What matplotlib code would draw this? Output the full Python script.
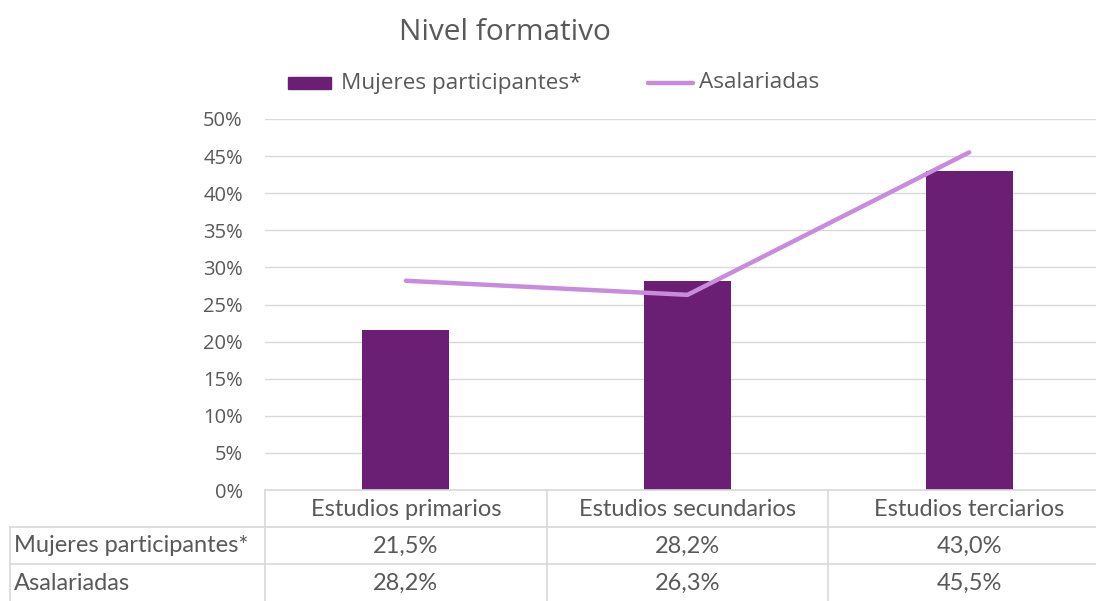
import matplotlib
matplotlib.use("Agg")
import matplotlib.pyplot as plt
from matplotlib.lines import Line2D
from matplotlib.patches import Rectangle
from matplotlib.ticker import PercentFormatter

categories = ["Estudios primarios", "Estudios secundarios", "Estudios terciarios"]
mujeres = [21.5, 28.2, 43.0]
asalariadas = [28.2, 26.3, 45.5]
series_names = ["Mujeres participantes*", "Asalariadas"]
yticks = [0, 5, 10, 15, 20, 25, 30, 35, 40, 45, 50]

W, H = 1096, 601
BAR = "#6B1F74"
LINE = "#C98BDC"
TXT = "#595959"
GRID = "#D9D9D9"
FONT = ["Open Sans", "DejaVu Sans"]
TFONT = ["Liberation Sans Narrow", "Lato", "DejaVu Sans"]

fig = plt.figure(figsize=(W / 100, H / 100), dpi=100)

def fx(x):
    return x / W

def fy(y):
    return 1 - y / H

# plot area in pixels
L, R, T, B = 265, 1110, 119, 490
ax = fig.add_axes([fx(L), fy(B), (R - L) / W, (B - T) / H])
x = list(range(len(categories)))
ax.bar(x, mujeres, width=0.31, color=BAR, zorder=3)
ax.plot(x, asalariadas, color=LINE, lw=3.2, solid_capstyle="round", zorder=4)
ax.set_xlim(-0.5, 2.5)
ax.set_ylim(0, 50)
ax.set_yticks(yticks)
ax.yaxis.set_major_formatter(PercentFormatter(decimals=0))
ax.tick_params(axis="y", length=0, pad=16, labelsize=14.5, labelcolor=TXT)
ax.tick_params(axis="x", length=0, labelbottom=False)
for lab in ax.get_yticklabels():
    lab.set_fontfamily(FONT)
ax.grid(axis="y", color=GRID, lw=1, zorder=0)
for s in ax.spines.values():
    s.set_visible(False)

# title
fig.text(fx(505), fy(33), "Nivel formativo", ha="center", va="center",
         fontsize=21.5, color=TXT, family=FONT)

# legend
fig.patches.append(Rectangle((fx(288), fy(89)), fx(331) - fx(288), fy(77) - fy(89),
                             transform=fig.transFigure, color=BAR, figure=fig))
fig.text(fx(341), fy(83), series_names[0], ha="left", va="center",
         fontsize=16.2, color=TXT, family=FONT)
fig.lines.append(Line2D([fx(648), fx(693)], [fy(83), fy(83)], transform=fig.transFigure,
                        color=LINE, lw=3.2, solid_capstyle="round", figure=fig))
fig.text(fx(699), fy(83), series_names[1], ha="left", va="center",
         fontsize=16.2, color=TXT, family=FONT)

# data table lines
def hline(y, x0, x1):
    fig.lines.append(Line2D([fx(x0), fx(x1)], [fy(y), fy(y)], transform=fig.transFigure,
                            color=GRID, lw=1.2, figure=fig))

def vline(xp, y0, y1):
    fig.lines.append(Line2D([fx(xp), fx(xp)], [fy(y0), fy(y1)], transform=fig.transFigure,
                            color=GRID, lw=1.2, figure=fig))

hline(490, L, W)
hline(527, 10, W)
hline(564, 10, W)
vline(10, 527, H)
colw = (R - L) / 3
for i in range(3):
    vline(L + i * colw, 490, H)

rows_y = [509, 546, 583]
TS = 17
for i, cat in enumerate(categories):
    cx = L + (i + 0.5) * colw
    fig.text(fx(cx), fy(rows_y[0]), cat, ha="center", va="center",
             fontsize=TS, color=TXT, family=TFONT)
    fig.text(fx(cx), fy(rows_y[1]), f"{mujeres[i]:.1f}%".replace(".", ","),
             ha="center", va="center", fontsize=TS, color=TXT, family=TFONT)
    fig.text(fx(cx), fy(rows_y[2]), f"{asalariadas[i]:.1f}%".replace(".", ","),
             ha="center", va="center", fontsize=TS, color=TXT, family=TFONT)
for j, name in enumerate(series_names):
    fig.text(fx(14), fy(rows_y[j + 1]), name, ha="left", va="center",
             fontsize=TS, color=TXT, family=TFONT)

fig.savefig("out.png", dpi=100)
